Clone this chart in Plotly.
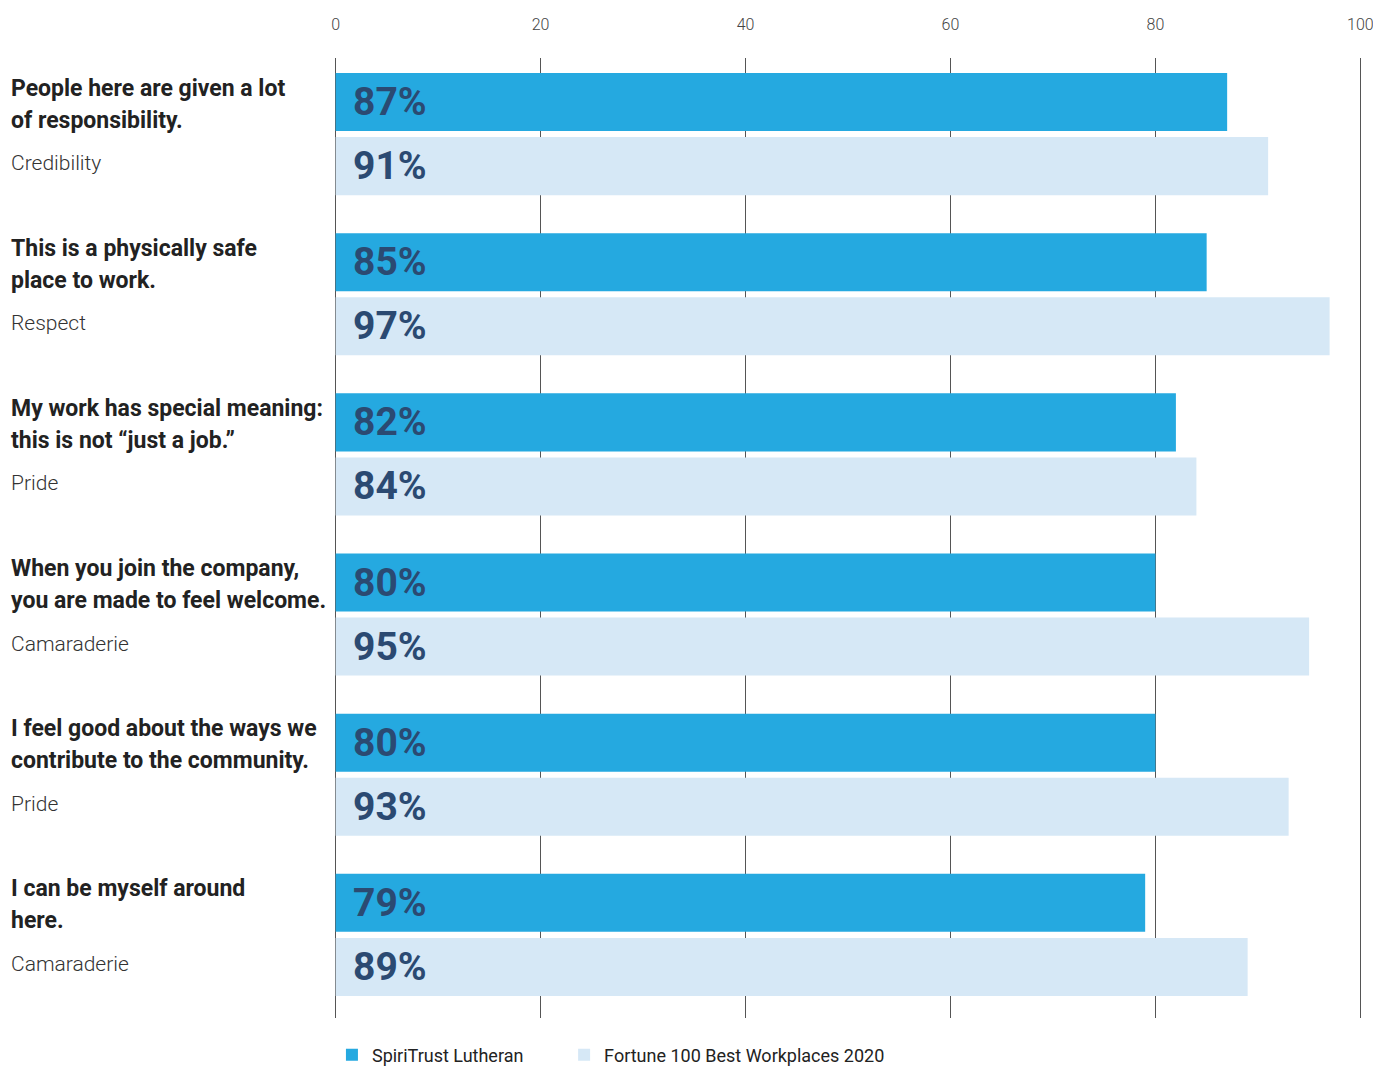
import plotly.graph_objects as go

statements = [
    ["People here are given a lot", "of responsibility."],
    ["This is a physically safe", "place to work."],
    ["My work has special meaning:", "this is not \u201cjust a job.\u201d"],
    ["When you join the company,", "you are made to feel welcome."],
    ["I feel good about the ways we", "contribute to the community."],
    ["I can be myself around", "here."],
]
dimensions = ["Credibility", "Respect", "Pride", "Camaraderie", "Pride", "Camaraderie"]
spiritrust = [87, 85, 82, 80, 80, 79]
fortune = [91, 97, 84, 95, 93, 89]
series_names = ["SpiriTrust Lutheran", "Fortune 100 Best Workplaces 2020"]
x_ticks = [0, 20, 40, 60, 80, 100]

FONT = "Roboto, Liberation Sans, sans-serif"
DARK = "#25a9e0"
LIGHT = "#d6e8f6"
NAVY = "#2b4a72"

pos = list(range(len(statements)))
W = 58 / 160

fig = go.Figure()
fig.add_trace(go.Bar(
    y=pos, x=spiritrust, orientation="h", name=series_names[0] + "\u00a0" * 8,
    marker=dict(color=DARK, line=dict(width=0)), width=W, offset=-61 / 160,
))
fig.add_trace(go.Bar(
    y=pos, x=fortune, orientation="h", name=series_names[1],
    marker=dict(color=LIGHT, line=dict(width=0)), width=W, offset=3 / 160,
))

LX = (9 - 334) / 1028
ann = []
for i in pos:
    for v, off in ((spiritrust[i], -32 / 160), (fortune[i], 32 / 160)):
        ann.append(dict(x=0, y=i + off, xref="x", yref="y", text=f"<b>{v}%</b>",
                        showarrow=False, xanchor="left", yanchor="middle", xshift=15,
                        font=dict(family=FONT, size=39, color=NAVY)))
    ann.append(dict(x=LX, y=i, xref="paper", yref="y", text=f"<b>{statements[i][0]}</b>",
                    showarrow=False, xanchor="left", yanchor="middle", yshift=46,
                    font=dict(family=FONT, size=23, color="#222222")))
    ann.append(dict(x=LX, y=i, xref="paper", yref="y", text=f"<b>{statements[i][1]}</b>",
                    showarrow=False, xanchor="left", yanchor="middle", yshift=14,
                    font=dict(family=FONT, size=23, color="#222222")))
    ann.append(dict(x=LX, y=i, xref="paper", yref="y", text=dimensions[i],
                    showarrow=False, xanchor="left", yanchor="middle", yshift=-29,
                    font=dict(family=FONT, size=21, weight=300, color="#333333")))

fig.update_layout(
    width=1373, height=1059,
    margin=dict(l=326, r=19, t=50, b=49, autoexpand=False),
    paper_bgcolor="white", plot_bgcolor="white",
    barmode="overlay",
    showlegend=True,
    legend=dict(orientation="h", xref="paper", x=-0.002, xanchor="left",
                yref="container", y=0.0113, yanchor="middle",
                font=dict(family=FONT, size=18, color="#222222"),
                itemwidth=30, tracegroupgap=0, bgcolor="rgba(0,0,0,0)"),
    annotations=ann,
    xaxis=dict(side="top", range=[-0.16, 100.16], tickvals=x_ticks, showgrid=True,
               gridcolor="#555555", gridwidth=1, zeroline=False, showline=False,
               ticks="", ticklabelstandoff=24,
               tickfont=dict(family=FONT, size=16, weight=300, color="#444444")),
    yaxis=dict(range=[5.519, -0.475], showticklabels=False, showgrid=False,
               zeroline=False, showline=False, ticks=""),
    font=dict(family=FONT),
)

fig.write_html("out.html")
